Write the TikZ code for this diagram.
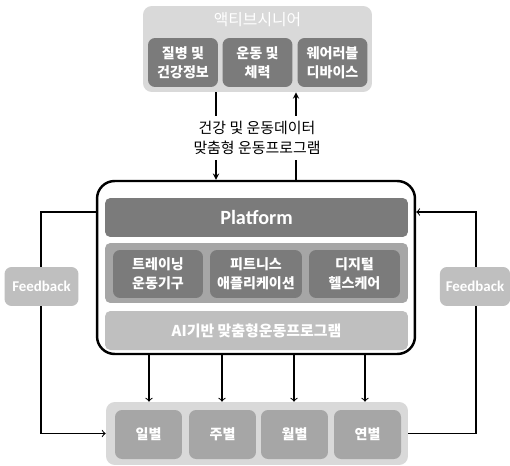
\documentclass[tikz,border=0pt]{standalone}
\usepackage{fontspec}
\setmainfont{Noto Sans CJK KR}
\newfontfamily\fbfont{Carlito}
\usetikzlibrary{positioning,calc}
\definecolor{bglight}{HTML}{D9D9D9}
\definecolor{boxdark}{HTML}{7B7B7B}
\definecolor{bandmid}{HTML}{A6A6A6}
\definecolor{barlight}{HTML}{BFBFBF}
\tikzset{
  panel/.style={fill=bglight, rounded corners=5pt},
  darkbox/.style={fill=boxdark, rounded corners=4pt, text=white, align=center,
    font=\bfseries\fontsize{8}{11}\selectfont, minimum height=0.98cm},
  daybox/.style={fill=bandmid, rounded corners=4pt, text=white,
    font=\bfseries\fontsize{8}{11}\selectfont, minimum width=1.34cm, minimum height=0.98cm},
  fbbox/.style={fill=barlight, rounded corners=4pt, text=white,
    font=\fbfont\bfseries\fontsize{8.5}{10}\selectfont, minimum height=0.78cm},
  bar/.style={rounded corners=3pt, text=white, minimum width=6.06cm, minimum height=0.78cm},
  link/.style={semithick, ->}
}
\begin{document}
\begin{tikzpicture}[x=0.02cm,y=-0.02cm]
      \useasboundingbox (0,0) rectangle (510,466);
      % top group
      \node[panel, minimum width=4.58cm, minimum height=1.72cm] (top) at (257.5,49) {};
      \node[text=white, font=\fontsize{9}{11}\selectfont] (senior) at (257.5,20) {액티브시니어};
      \node[darkbox, minimum width=1.4cm] (t1) at (183,62.5) {질병 및\\건강정보};
      \node[darkbox, minimum width=1.4cm] (t2) at (257.5,62.5) {운동 및\\체력};
      \node[darkbox, minimum width=1.4cm] (t3) at (332.5,62.5) {웨어러블\\디바이스};
      % platform
      \node[draw, line width=1.4pt, fill=white, rounded corners=10pt,
        minimum width=6.36cm, minimum height=3.46cm] (plat) at (256,267.5) {};
      \node[bar, fill=boxdark, font=\fbfont\bfseries\fontsize{11.5}{13}\selectfont] (head) at (256.5,217.5) {Platform};
      \node[rounded corners=3pt, fill=bandmid, minimum width=6.06cm, minimum height=1.2cm] (band) at (256.5,273) {};
      \node[darkbox, minimum width=1.8cm, minimum height=0.96cm] (p1) at (158,274) {트레이닝\\운동기구};
      \node[darkbox, minimum width=1.84cm, minimum height=0.96cm] (p2) at (256,274) {피트니스\\애플리케이션};
      \node[darkbox, minimum width=1.82cm, minimum height=0.96cm] (p3) at (354.5,274) {디지털\\헬스케어};
      \node[bar, fill=barlight, font=\bfseries\fontsize{8.5}{11}\selectfont] (ai) at (256.5,330.5) {AI기반 맞춤형운동프로그램};
      % data arrows
      \coordinate (la) at (216,0);
      \coordinate (ra) at (296,0);
      \draw[link, >=stealth] (la |- top.south) -- (la |- plat.north);
      \draw[link, >=stealth] (ra |- plat.north) -- (ra |- top.south);
      \node[fill=white, align=center, inner sep=3pt, font=\fontsize{8.5}{11}\selectfont] (data) at (257,138) {건강 및 운동데이터\\맞춤형 운동프로그램};
      % periods
      \node[panel, minimum width=6.04cm, minimum height=1.26cm] (bottom) at (257,433.5) {};
      \node[daybox] (d1) at (148.5,434.5) {일별};
      \node[daybox] (d2) at (222.5,434.5) {주별};
      \node[daybox] (d3) at (294.5,434.5) {월별};
      \node[daybox] (d4) at (367.5,434.5) {연별};
      \foreach \n/\x in {d1/149,d2/222,d3/294,d4/365}
        \draw[link] (\x,0 |- plat.south) -- (\x,0 |- bottom.north);
      % feedback loops
      \coordinate (lfb) at (41,212);
      \coordinate (rfb) at (476,212);
      \draw[link] (lfb -| plat.west) -- (lfb) |- (bottom.west);
      \draw[link] (bottom.east) -| (rfb) -- (rfb -| plat.east);
      \node[fbbox, minimum width=1.48cm] (fbl) at (41.5,286.5) {Feedback};
      \node[fbbox, minimum width=1.4cm] (fbr) at (475,286.5) {Feedback};
\end{tikzpicture}
\end{document}
